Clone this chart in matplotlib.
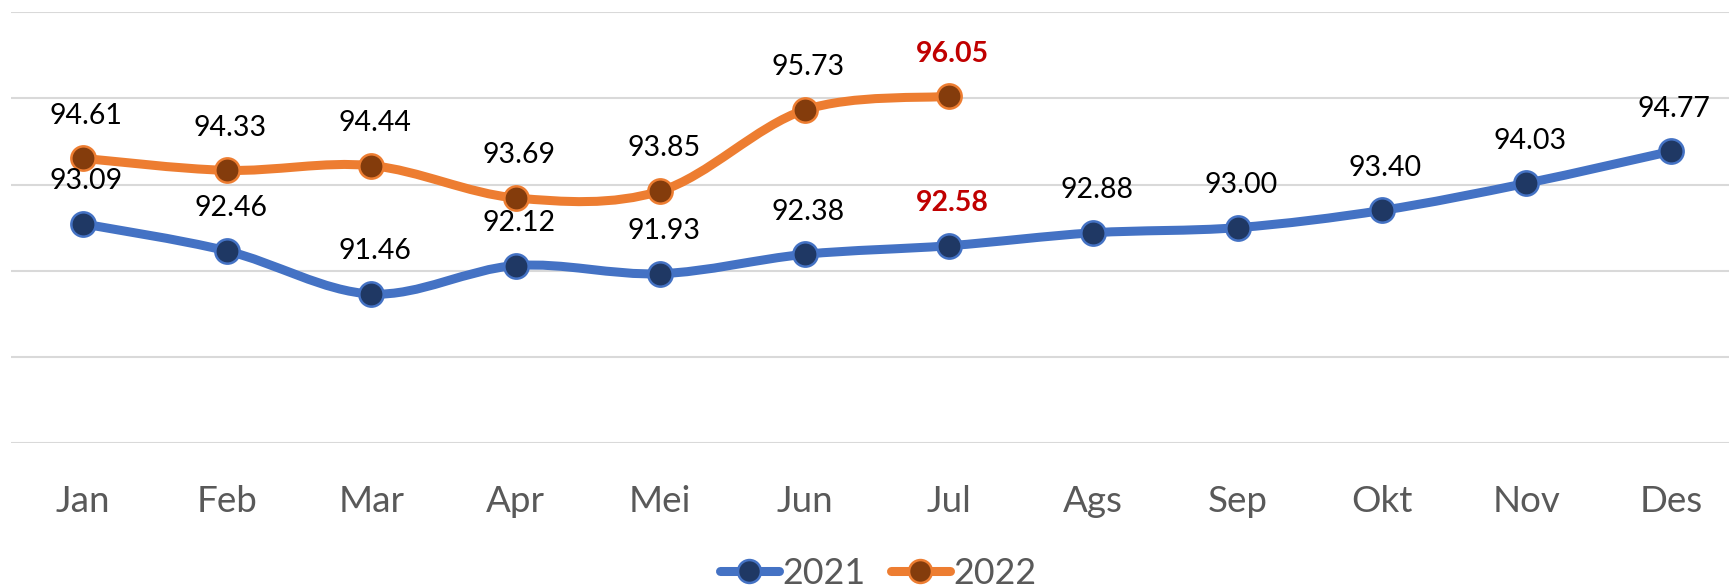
import matplotlib
matplotlib.use("Agg")
import matplotlib.pyplot as plt
from matplotlib.path import Path
from matplotlib.patches import PathPatch
from matplotlib.lines import Line2D
import numpy as np

months = ["Jan", "Feb", "Mar", "Apr", "Mei", "Jun", "Jul", "Ags", "Sep", "Okt", "Nov", "Des"]
values_2021 = [93.09, 92.46, 91.46, 92.12, 91.93, 92.38, 92.58, 92.88, 93.00, 93.40, 94.03, 94.77]
values_2022 = [94.61, 94.33, 94.44, 93.69, 93.85, 95.73, 96.05]
highlight_index = 6  # Jul labels shown in red bold

plt.rcParams['font.family'] = ['Lato', 'DejaVu Sans']

W, H, DPI = 1729, 588, 100
fig = plt.figure(figsize=(W / DPI, H / DPI), dpi=DPI)
left_px, right_px, top_px, bot_px = 11, 1729, 12.3, 443
ax = fig.add_axes([left_px / W, 1 - bot_px / H, (right_px - left_px) / W, (bot_px - top_px) / H])

x_first, x_last = 82.7, 1670.7
ppu = (x_last - x_first) / 11
ax.set_xlim(-(x_first - left_px) / ppu, 11 + (right_px - x_last) / ppu)
ax.set_ylim(88, 98)

for s in ax.spines.values():
    s.set_visible(False)
ax.set_yticks([88, 90, 92, 94, 96, 98])
ax.yaxis.grid(True, color="#D9D9D9", linewidth=1.5)
ax.set_axisbelow(True)
ax.tick_params(axis='y', left=False, labelleft=False)
ax.set_xticks(range(12))
ax.set_xticklabels(months, fontsize=26.5, color="#595959")
ax.tick_params(axis='x', bottom=False, pad=27)


def smooth_path(xs, ys):
    pts = np.column_stack([xs, ys]).astype(float)
    n = len(pts)
    verts = [pts[0]]
    codes = [Path.MOVETO]
    for i in range(n - 1):
        p0 = pts[i - 1] if i > 0 else pts[i]
        p1 = pts[i]
        p2 = pts[i + 1]
        p3 = pts[i + 2] if i + 2 < n else pts[i + 1]
        c1 = p1 + (p2 - p0) / 6.0
        c2 = p2 - (p3 - p1) / 6.0
        verts += [c1, c2, p2]
        codes += [Path.CURVE4] * 3
    return Path(verts, codes)


series = [
    ("2021", values_2021, "#4472C4", "#1F3864"),
    ("2022", values_2022, "#ED7D31", "#843C0C"),
]
handles = []
for name, vals, lc, mc in series:
    xs = np.arange(len(vals))
    patch = PathPatch(smooth_path(xs, vals), facecolor="none", edgecolor=lc,
                      linewidth=6.5, capstyle="round", joinstyle="round", zorder=3)
    ax.add_patch(patch)
    ax.plot(xs, vals, linestyle="none", marker="o", markersize=17.5,
            markerfacecolor=mc, markeredgecolor=lc, markeredgewidth=1.8, zorder=4)
    for i, v in enumerate(vals):
        hl = (i == highlight_index)
        ax.annotate(f"{v:.2f}", (i, v), xytext=(2.5, 30.8), textcoords="offset points",
                    ha="center", va="center", fontsize=20.5,
                    color="#C00000" if hl else "black",
                    fontweight="bold" if hl else "normal", zorder=5)
    handles.append(Line2D([0], [0], color=lc, linewidth=6.5, solid_capstyle="round",
                          marker="o", markersize=16.5, markerfacecolor=mc,
                          markeredgecolor=lc, markeredgewidth=1.8, label=name))

fig.legend(handles=handles, loc="center", bbox_to_anchor=(878 / W, 1 - 573 / H),
           ncol=2, frameon=False, fontsize=25.8, labelcolor="#595959",
           handlelength=1.65, handletextpad=0.1, columnspacing=0.7,
           borderpad=0, borderaxespad=0)

fig.savefig("out.png", dpi=DPI)
